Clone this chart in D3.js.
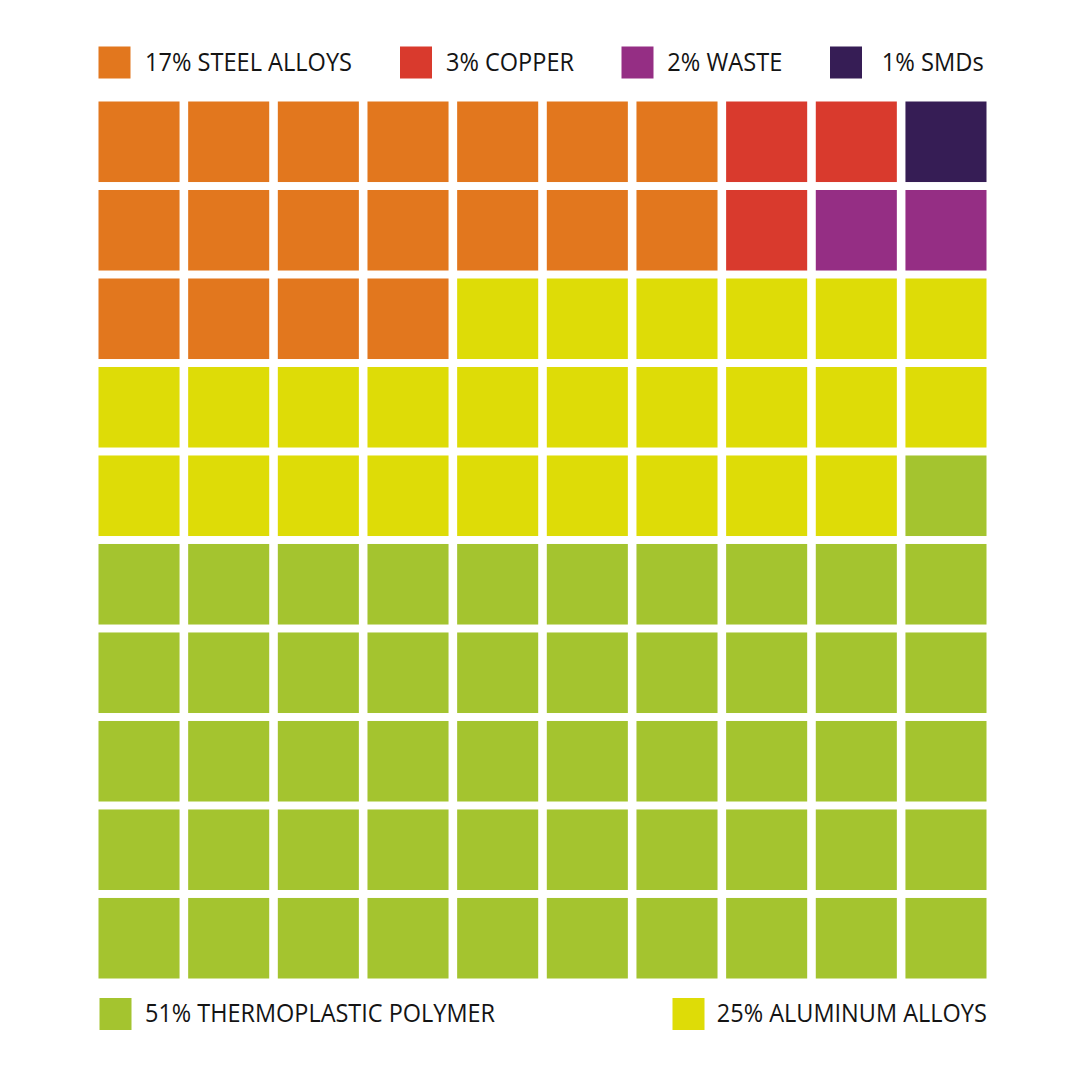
<!DOCTYPE html>
<html>
<head>
<meta charset="utf-8">
<script src="https://cdn.jsdelivr.net/npm/d3@7"></script>
<style>
  html, body { margin: 0; padding: 0; background: #fff; }
  svg { display: block; }
</style>
</head>
<body>
<svg id="chart"></svg>
<script>
// materials, in legend order
const categories = ["steel", "copper", "waste", "smd", "polymer", "aluminum"];
const labels = ["17% STEEL ALLOYS", "3% COPPER", "2% WASTE", "1% SMDs",
                "51% THERMOPLASTIC POLYMER", "25% ALUMINUM ALLOYS"];
const colors = ["#e2771e", "#d93a2d", "#952e84", "#361d55", "#a4c42f", "#dedc07"];

// cell layout, one string per row
// S steel, C copper, W waste, M smd, A aluminum, P polymer
const rows = [
  "SSSSSSSCCM",
  "SSSSSSSCWW",
  "SSSSAAAAAA",
  "AAAAAAAAAA",
  "AAAAAAAAAP",
  "PPPPPPPPPP",
  "PPPPPPPPPP",
  "PPPPPPPPPP",
  "PPPPPPPPPP",
  "PPPPPPPPPP"
];
const codeMap = { S: "steel", C: "copper", W: "waste", M: "smd", P: "polymer", A: "aluminum" };

const W = 1080, H = 1080;
const svg = d3.select("#chart").attr("width", W).attr("height", H);

const color = d3.scaleOrdinal().domain(categories).range(colors);

const cells = [];
rows.forEach((r, ri) => {
  r.split("").forEach((c, ci) => cells.push({ row: ri, col: ci, cat: codeMap[c] }));
});

const x = d3.scaleBand().domain(d3.range(10)).range([98.5, 986.5]).paddingInner(0.096);
const y = d3.scaleBand().domain(d3.range(10)).range([101.5, 978.5]).paddingInner(0.09);

svg.append("g")
  .selectAll("rect")
  .data(cells)
  .join("rect")
    .attr("x", d => x(d.col))
    .attr("y", d => y(d.row))
    .attr("width", x.bandwidth())
    .attr("height", y.bandwidth())
    .attr("fill", d => color(d.cat));

// legend: top row of four, bottom row of two (tx = text offset, w = text width)
const legendPos = [
  { x: 98.5, y: 46.5, tx: 46.5, w: 207 },
  { x: 400, y: 46.5, tx: 46, w: 128 },
  { x: 621.5, y: 46.5, tx: 45.8, w: 115 },
  { x: 830, y: 46.5, tx: 51.8, w: 102 },
  { x: 99.5, y: 998, tx: 45.5, w: 350 },
  { x: 672.5, y: 998, tx: 44.3, w: 270 }
];

const legend = svg.append("g")
  .selectAll("g")
  .data(categories)
  .join("g")
    .attr("transform", (d, i) => `translate(${legendPos[i].x},${legendPos[i].y})`);

legend.append("rect")
  .attr("width", 32)
  .attr("height", 32)
  .attr("fill", d => color(d));

legend.append("text")
  .attr("x", (d, i) => legendPos[i].tx)
  .attr("y", 24.3)
  .attr("font-family", "'Open Sans', sans-serif")
  .attr("font-size", 25.5)
  .attr("fill", "#141414")
  .attr("textLength", (d, i) => legendPos[i].w)
  .attr("lengthAdjust", "spacingAndGlyphs")
  .text((d, i) => labels[i]);
</script>
</body>
</html>
